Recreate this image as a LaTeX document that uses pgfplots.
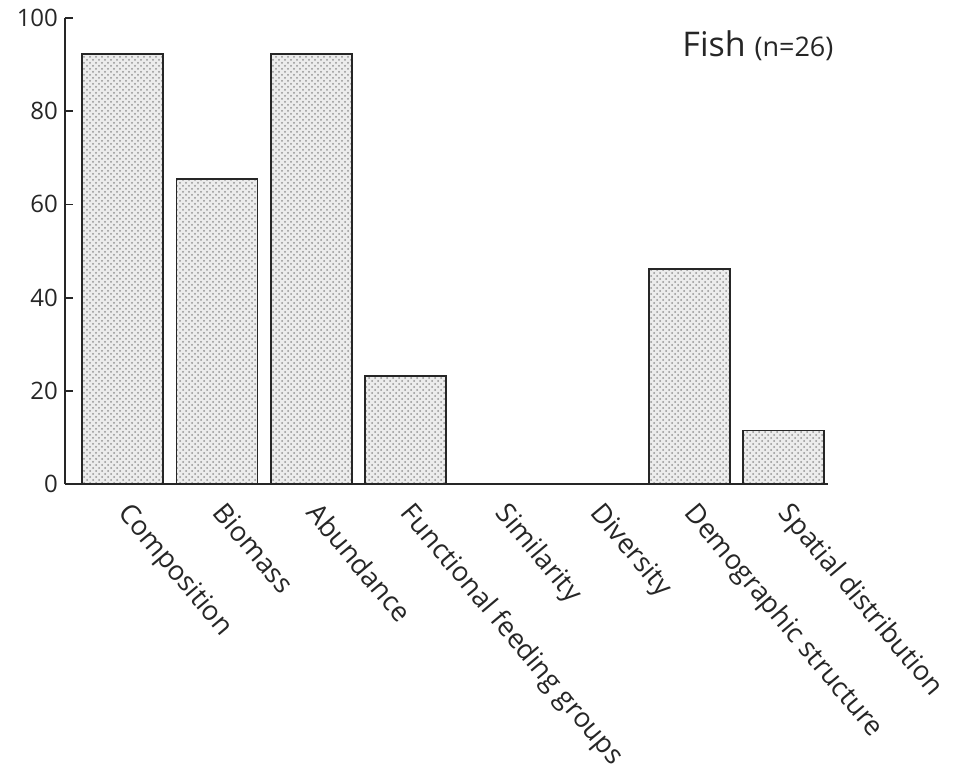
\documentclass[border=0pt]{standalone}
\usepackage{fontspec}
\setmainfont{Open Sans}
\usepackage{pgfplots}
\pgfplotsset{compat=1.18}
\usetikzlibrary{patterns}
\begin{document}
\begin{tikzpicture}
\path[use as bounding box] (0,0) rectangle (477pt,-391.5pt);
\begin{axis}[
  at={(32.5pt,-242pt)}, anchor=south west,
  width=381.5pt, height=233pt, scale only axis,
  xmin=-0.61, xmax=7.47, ymin=0, ymax=100,
  axis lines=left, axis line style={-, line width=1.1pt, black!85},
  ytick={0,20,40,60,80,100},
  tick align=inside, major tick length=4pt,
  tick style={line width=0.9pt, black!85},
  xtick={0,...,7}, xtick style={draw=none},
  xticklabels={Composition,Biomass,Abundance,Functional feeding groups,Similarity,Diversity,Demographic structure,Spatial distribution},
  xticklabel style={xshift=5pt, yshift=-4pt, rotate=-50, anchor=north west, inner sep=0pt, font=\fontsize{13.6}{16}\selectfont, black!85},
  yticklabel style={font=\fontsize{12}{14}\selectfont, black!85},
  /pgf/number format/assume math mode=true,
  ybar, bar width=40.5pt,
  clip=false,
]
\addplot[draw=black!85, line width=0.9pt, fill=gray!15, postaction={pattern=crosshatch dots, pattern color=gray!85}] coordinates {
(0,92.3) (1,65.4) (2,92.3) (3,23.1) (4,0) (5,0) (6,46.2) (7,11.5)};
\node[anchor=west, font=\fontsize{17}{19}\selectfont, black!85] at (rel axis cs:0.8,0.94) {Fish {\fontsize{13.5}{15}\selectfont (n=26)}};
\end{axis}
\end{tikzpicture}
\end{document}
